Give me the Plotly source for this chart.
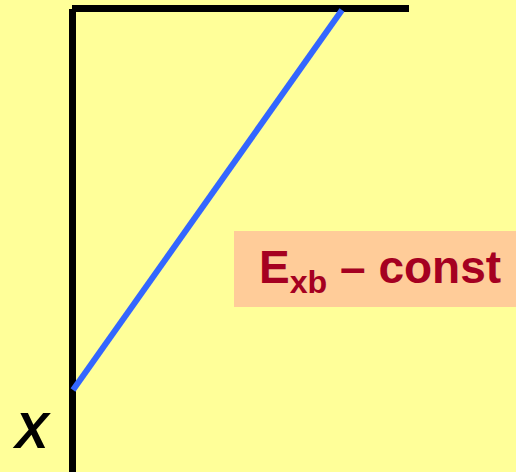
import plotly.graph_objects as go

# Data (pixel-like coordinate system of the drawing, y downward)
axis_vert_x = [72.5, 72.5]
axis_vert_y = [472, 9]
axis_top_x = [72, 409]
axis_top_y = [8.5, 8.5]
line_x = [73, 342]
line_y = [390, 10]

label_text = "E<sub>xb</sub> – const"
x_label = "X"

fig = go.Figure()
fig.add_trace(go.Scatter(x=axis_vert_x, y=axis_vert_y, mode="lines",
                         line=dict(color="black", width=7), hoverinfo="skip"))
fig.add_trace(go.Scatter(x=axis_top_x, y=axis_top_y, mode="lines",
                         line=dict(color="black", width=7), hoverinfo="skip"))
fig.add_trace(go.Scatter(x=line_x, y=line_y, mode="lines",
                         line=dict(color="#3366FF", width=6), hoverinfo="skip"))

fig.add_shape(type="rect", x0=234, x1=516, y0=231, y1=307,
              fillcolor="#FFCC99", line=dict(width=0), layer="below")
fig.add_annotation(x=380, y=270, text="<b>" + label_text + "</b>", showarrow=False,
                   font=dict(family="Arial, Liberation Sans, sans-serif", size=46, color="#A50021"),
                   xanchor="center", yanchor="middle")
fig.add_annotation(x=31, y=431, text="<b><i>" + x_label + "</i></b>", showarrow=False,
                   font=dict(family="Arial, Liberation Sans, sans-serif", size=50, color="black"),
                   xanchor="center", yanchor="middle")

fig.update_layout(
    width=516, height=472,
    margin=dict(l=0, r=0, t=0, b=0),
    paper_bgcolor="#FFFF99", plot_bgcolor="#FFFF99",
    showlegend=False,
    xaxis=dict(range=[0, 516], visible=False, fixedrange=True),
    yaxis=dict(range=[472, 0], visible=False, fixedrange=True),
)
fig.write_html("out.html", config={"displayModeBar": False},
               post_script="document.body.style.margin='0';document.body.style.overflow='hidden';document.body.style.background='#FFFF99';")
